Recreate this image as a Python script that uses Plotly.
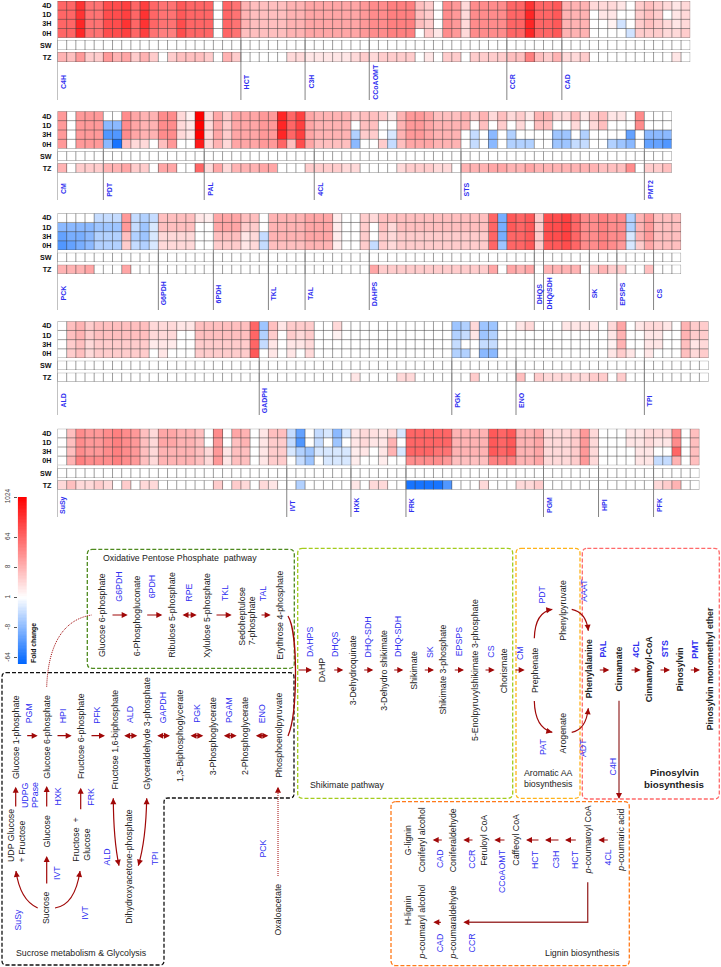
import math
import numpy as np
import plotly.graph_objects as go

# ---------- heat map values: log2 fold change per contig (negative = down) ----------
p1_4d = [6,6,8,5.5,5.5,7,7,7.5,6,7.5, 6,5.5,5.5,6.5,6,6,6,0,6,5.5, 3,2.5,2.5,2.5,2.5,3,3,3.5,3.5,3.5, 3.5,3.5,3.5,4,4.5,4.5,5,5,5,2.5, 2,0,4.5,4,1.5,4.5,4.5,4.5,4.5,6, 6,8,6,6,6.5,3,3,3,1.5,1.5, 1.5,1,0,2,2.5,2,1.5,1,1.5]
p1_1d = [6,6,8,5.5,5.5,7,7,7.5,6,8, 6,5.5,5.5,6.5,6,6,6,0,6,5.5, 3,2.5,2.5,2.5,2.5,3,3,3.5,3.5,3.5, 3.5,3.5,3.5,4,4.5,4.5,5,5,5,2.5, 2,0,4.5,4,1.5,4.5,4.5,4.5,4.5,6, 6,8.5,6,6,6.5,3,3,3,0,1, 1,0,0,2,2.5,2,0,1,1.5]
p1_3h = [6,6,8.5,5.5,5.5,7,7,8,6,8, 6,5.5,5.5,7,6,6,6,0,6,5.5, 3,2.5,2.5,2.5,2.5,3,3,3.5,3.5,3.5, 3.5,3.5,3.5,4,4.5,4.5,5,5,5,2.5, 2,0,4.5,4,1.5,4.5,4.5,4.5,4.5,6, 6,8.5,6,6,6.5,3,3,3,0,0, .5,-1.2,0,2,2.5,2,1.5,1,1.5]
p1_0h = [6,6,8.5,5.5,5.5,7,7,7.5,6,7.5, 5.5,5,5,7,6,6,6,0,6,5.5, 2.5,2.5,2.5,2.5,2.5,3,3,3.5,3.5,3.5, 3.5,3.5,3.5,4,4.5,4.5,5,5,5,0, 2,1,4.5,4,1.5,4.5,4.5,4.5,4.5,6, 6,8.5,6,6,6.5,3,3,3,0,0, 0,0,-1.2,2,2,2,1.5,1.5,2]
p1_tz = [3,2.5,4,2,2,4,3,3.5,2,3, 2,0,2,2.5,2.5,2.5,2,0,3,2, 0,0,0,0,0,1.5,1.5,1,1,1, 1,1,1.5,2,1.5,2,2,2,2,0, 1,0,2,2,0,2,2,2,2,2.5, 2.5,5,2.5,2,3,1.5,1.5,2,0,0, 0,0,0,0,0,0,0,1,0]

p2_4d = [4,0,4,4,4,0,0,4.5,3.5,3, 3,4.5,4.5,1.5,.5,10,1.5,3.5,2,3.5, 3.5,3.5,4,4,8.5,6,7.5,3.5,3,3, 3,3,2,2.5,2.5,2,1,3,4,4, 3.5,2.5,2.5,2.5,3,2,3,1.5,2.5,1.5, 2,1,3,3,1.5,1.5,2.5,1,2,2.5, 1,1,0,4.5,0,0,0]
p2_1d = [4,0,4,4,4,-3,-3,4.5,3.5,3, 3,4.5,4.5,1.5,1,10,1.5,3.5,2,3.5, 3.5,3.5,4,4,8.5,6,7.5,3.5,3,3, 3,3,0,2.5,2.5,0,0,3,4,4, 3.5,3,3,3,3,0,2.5,0,2,0, 1.5,0,2.5,2.5,0,0,1.5,0,1.5,2.5, 0,0,0,4.5,0,0,0]
p2_3h = [4,0,4,4,4,-4.5,-4.5,4.5,3.5,3, 3,4.5,4.5,1.5,1,10,1.5,3.5,2,3.5, 3.5,3.5,4,4,8.5,6,7.5,3.5,3,3, 3,3,-2,2,2,0,-1,3,4,4, 3.5,3,3,3,0,-1.5,0,-3,0,-2, 0,0,0,0,-2.5,-2.5,0,-2,0,0, 0,0,-4,0,-3,-3,-3]
p2_0h = [4,0,4,4,4,-3,-6,2.5,1.5,1.5, 0,2.5,4,0,0,9,1.5,3,1.5,3.5, 3.5,3.5,4,4,6,2.5,7,3.5,2.5,2.5, 2.5,2.5,-3,0,0,2,-1.5,2.5,3.5,3.5, 3.5,3,3,3,0,-1.5,0,-3,0,-2, -2,-2,0,0,-2.5,-2.5,-1.5,-1.5,0,0, -2,-2.5,-3,0,-4,-4,-4.5]
p2_tz = [3,0,2,2,2,3,3,3.5,2,2, 0,3.5,3.5,0,0,6,1.5,3.5,1.5,3, 3,3,3.5,3.5,0,0,0,2,2,2, 2,1.5,1.5,0,0,0,0,1.5,2,2, 2,1.5,1.5,0,3,3,3,3.5,3.5,3, 3,3.5,3,3,3,3,3,3,3,2.5, 2.5,2.5,4.5,0,2,2,2.5]

p3_4d = [0,0,0,0,-1.5,-1.5,-1.5,4,-1.5,-2, -1.5,2.5,2.5,2.5,2.5,1,.7,3.5,3.5,3.5, 2.5,2.5,0,3,3,3,3,3.5,3.5,3.5, .7,0,0,2,1.5,2.5,2.5,2.5,2.5,2.5, 2.5,2.5,2.5,2.5,2.5,2.5,2.5,6,-3.5,6.5, 6,6.5,2,7,7,7.5,6,4.5,4.5,5, 4.5,4.5,-2,3,4,2.5,2.5,2.5]
p3_1d = [-3,-3,-3,-3,-2.5,-2.5,-2.5,4,-1.5,-2.5, -1,2.5,2.5,2.5,2.5,0,0,3.5,3.5,3.5, 2,2,0,3,3,3,3,3.5,3.5,3.5, .7,0,0,2,0,2.5,1.5,2.5,2.5,2.5, 2.5,2.5,2.5,2.5,2.5,2.5,2.5,6,-3.5,6.5, 6,6.5,2,7,7,7.5,6,4.5,4.5,5, 4.5,4.5,-2,3,4,2.5,2.5,2.5]
p3_3h = [-4,-3.5,-3.5,-3,-2,-2,-2,2.5,-2,-2.5, -1,1.5,1.5,1.5,1.5,0,0,2.5,2.5,2.5, 1,1.5,-1.5,3,3,3,3,3.5,3.5,3.5, .7,0,0,2,0,2,1.5,2,2,2, 2,2,2,2,2,2,2,6,-3.5,6, 6,6.5,2,7,7,7.5,6,4.5,4.5,5, 4.5,4.5,-1,3,4,2.5,2.5,2.5]
p3_0h = [-4.5,-4,-3.5,-3,-2,-2,-2,2,-1.5,-2, -1,1.5,1.5,1.5,1.5,0,0,2,2,2, 1,1.5,-1.5,2.5,2.5,2.5,2.5,3,3,3, .7,0,0,2,-1.5,2,1.5,2,2,2, 2,2,2,2,2,2,2,6,-2.5,6, 6,6.5,2,6.5,6.5,7,6,4.5,4.5,5, 4.5,4,-1,2,3.5,2.5,2.5,2.5]
p3_tz = [3,3,3,3.5,0,0,0,3.5,0,0, 0,0,0,0,0,0,0,0,0,0, 0,0,0,0,0,0,0,0,0,0, 0,0,0,0,3.5,2,2,2,2,2, 2,2,2,2,2,2,2,3.5,0,3.5, 3,3.5,0,3,3,3,3,0,2,3, 2,2,0,0,2.5,0,0,0]

p4_4d = [0,2.5,3,2,2.5,2.5,2.5,2.5,2.5,2.5, 1.5,1.5,1.5,1,1,2.5,2.5,2.5,2.5,2.5, 2.5,6,-2.5,2.5,1,2,2,2,0,0, 1.5,0,0,0,0,0,0,0,0,0, 0,0,0,-2.5,-2,1.5,-2.5,-2.5,0,0, 1,1.5,0,0,0,1,1,1,1,0, 1.5,3.5,0,1,1.5,1.5,1,0,3,2,2]
p4_1d = [0,2.5,3,2,2.5,2.5,2.5,2.5,2.5,2.5, 1.5,1.5,1.5,0,0,2.5,2.5,2.5,2.5,2.5, 2.5,6,-2,2,0,2,1.5,2,0,0, .5,0,0,0,0,0,0,0,0,0, 0,0,0,-2,-1.5,1,-2.5,-2,0,0, 0,0,0,0,0,0,0,0,0,0, 1,3,0,0,1,1,0,0,3,2,2]
p4_3h = [0,2,2.5,1.5,2,2,2,2,2,2, .8,1,.8,0,0,2,2,2,2,2, 2,6,-1.5,1,0,1,1,1.5,0,0, 0,0,0,0,0,0,0,0,0,0, 0,0,0,-1.5,0,0,-1.5,-1.5,0,0, 0,0,0,0,0,0,0,0,0,0, .5,3,0,0,1,1,0,0,2.5,1,1.5]
p4_0h = [0,2,2.5,1.5,2,2,2,2,2,2, 0,1,0,0,0,2,2,2,2,2, 2,6.5,0,1,0,1,0,1.5,0,0, 0,0,0,0,0,0,0,0,0,0, 0,0,0,-2,-2,0,-3,-3,0,0, 0,0,0,0,0,0,0,0,0,0, 1,2,1,0,1,0,0,0,2.5,1.5,2]
p4_tz = [0,0,0,0,0,0,0,0,0,0, 0,0,0,0,0,0,0,0,0,0, 0,0,0,0,0,0,0,0,0,0, 0,0,1,0,0,0,0,1.5,1.5,0, 0,0,0,0,0,2,0,0,0,0, 2.5,0,2,1.5,1.5,1.5,1.5,1.5,2,2, 0,2,0,0,0,0,0,0,0,0,0]

p5_4d = [0,2.5,4.5,4,4,4.5,5,4.5,4,2.5, 1.5,3.5,3.5,3,3,2.5,0,4.5,0,3.5, 3,0,1,2.5,2.5,-1.5,-4,0,-1.5,-1, -3,-1,1,1.5,1.2,1,1.5,-1,6,6, 6,6,6,3,3,3,3,6.5,6,6.5, 3,3,3.5,1.5,1.5,1.5,2,4,1.5,0, 0,0,1,1,1.5,1.5,1.5,4.5,0,2.5]
p5_1d = [0,2.5,4.5,4,4,4.5,5,4.5,4,2.5, 1.5,3.5,3.5,3,3,2.5,0,4,0,2.5, 3,0,1,2,2,-1.5,-4.5,0,-1.5,0, -2.5,0,1,1.5,1,1,3,0,6,6, 6,6,6,3,3,3,3,6.5,6,6.5, 3,3,3.5,1.5,1.5,1.5,2,4,1.5,0, 0,0,1,1,1.5,1,1,4.5,0,2.5]
p5_3h = [0,2.5,4.5,4,4,4.5,5,4.5,4,2.5, 1.5,3,3,3,3,2.5,1.5,4,1,2.5, 2.5,0,1,2,2,-1,-2,-2.5,-1,-1, -1,-1,.7,1,0,1,3,-1,6,6, 6,5.5,5.5,3,3,3,3,6.5,6,6.5, 3,3,3.5,1.5,1.5,1.5,2,4,1.5,0, 0,0,0,1,1,0,0,6,0,2.5]
p5_0h = [0,3,5,4.5,4.5,4.5,5,4.5,4,2.5, 1.5,3,3,3,3,2.5,1.5,4,1,2.5, 2.5,0,1,2,2,0,-1.5,-2.5,0,-1, -1,-1,.7,0,0,.7,0,0,4.5,4.5, 4.5,4.5,4,2.5,2.5,2.5,2.5,5,5,5, 3,3,3.5,1.5,1.5,1.5,2,4,1.5,0, 0,0,0,1,1,-1.5,-1.5,3,0,2.5]
p5_tz = [1.5,2.5,1.5,1.5,2,1.5,0,2,0,1.5, 1.5,0,0,0,0,0,0,2,0,2, 1.5,0,1.5,1,0,0,-2,0,0,0, 0,0,1,0,1.5,1.5,0,0,-6,-6, -6,-6,-4.5,0,0,0,1.5,0,0,0, 1.5,1.5,2,0,0,0,0,0,0,0, 0,0,0,0,0,1.5,2,3,0,0]

time_rows = ["0H", "3H", "1D", "4D"]
colorbar_ticks = [-6, -3, 0, 3, 6, 10]
colorbar_labels = ["-64", "-8", "1", "8", "64", "1024"]

p1_genes = ["C4H", "HCT", "C3H", "CCoAOMT", "CCR", "CAD"]
p1_starts = [0, 20, 27, 34, 49, 55]
p2_genes = ["CM", "PDT", "PAL", "4CL", "STS", "PMT2"]
p2_starts = [0, 5, 16, 28, 44, 64]
p3_genes = ["PCK", "G6PDH", "6PDH", "TKL", "TAL", "DAHPS", "DHQS", "DHQ/SDH", "SK", "EPSPS", "CS"]
p3_starts = [0, 11, 17, 23, 27, 34, 52, 53, 58, 61, 65]
p4_genes = ["ALD", "GADPH", "PGK", "ENO", "TPI"]
p4_starts = [0, 22, 43, 50, 64]
p5_genes = ["SuSy", "IVT", "HXK", "FRK", "PGM", "HPI", "PFK"]
p5_starts = [0, 25, 32, 38, 53, 59, 65]

# ---------- layout of the panels (pixels) ----------
W, H = 721, 967
CELL = 9.17
LEFT = 57.5
panels = [
    dict(rows=[p1_0h, p1_3h, p1_1d, p1_4d], tz=p1_tz, genes=p1_genes, starts=p1_starts,
         main=(1, 37.7), sw=(40, 50), tzb=(52, 62), line_end=100, label_y=82),
    dict(rows=[p2_0h, p2_3h, p2_1d, p2_4d], tz=p2_tz, genes=p2_genes, starts=p2_starts,
         main=(111.3, 148.7), sw=(151.3, 160.7), tzb=(163.3, 172.7), line_end=200, label_y=189),
    dict(rows=[p3_0h, p3_3h, p3_1d, p3_4d], tz=p3_tz, genes=p3_genes, starts=p3_starts,
         main=(213.3, 250), sw=(252.7, 262), tzb=(264.7, 274), line_end=310, label_y=293.5),
    dict(rows=[p4_0h, p4_3h, p4_1d, p4_4d], tz=p4_tz, genes=p4_genes, starts=p4_starts,
         main=(321.3, 358), sw=(360.7, 370), tzb=(372.7, 381.7), line_end=415, label_y=400.5),
    dict(rows=[p5_0h, p5_3h, p5_1d, p5_4d], tz=p5_tz, genes=p5_genes, starts=p5_starts,
         main=(428.7, 465.3), sw=(468.3, 478), tzb=(480.3, 489.7), line_end=517, label_y=505),
]

FONT = "Liberation Sans"
TXT = "#222222"
BLUE = "#2f2ff0"
RED = "#a00808"
ZMIN, ZMAX = -6.6, 10
SCALE = [[0, "#0066ff"], [-ZMIN / (ZMAX - ZMIN), "#ffffff"], [1, "#ff0000"]]
GRID = "rgba(60,60,60,0.5)"

fig = go.Figure()
layout = dict(width=W, height=H, margin=dict(l=0, r=0, t=0, b=0), paper_bgcolor="white",
              plot_bgcolor="rgba(0,0,0,0)", showlegend=False, autosize=False)
shapes, notes = [], []
OV = 17  # overlay axes numbered in figure pixels
OX, OY = f"x{OV}", f"y{OV}"


def axis_pair(k, x0, x1, y0, y1):
    return (dict(domain=[x0 / W, x1 / W], anchor=f"y{k}", showgrid=False, zeroline=False, automargin=False,
                 showticklabels=False, ticks="", fixedrange=True),
            dict(domain=[1 - y1 / H, 1 - y0 / H], anchor=f"x{k}", showgrid=False, zeroline=False, automargin=False,
                 showticklabels=False, ticks="", fixedrange=True))


def block(k, z, labels, xspan, yspan):
    n, m = len(z[0]), len(z)
    xa, ya = axis_pair(k, xspan[0], xspan[1], yspan[0], yspan[1])
    xa["range"] = [-0.5, n - 0.5]
    ya["range"] = [-0.5, m - 0.5]
    ya.update(showticklabels=True, tickmode="array", tickvals=list(range(m)), ticktext=labels,
              ticklabelstandoff=5,
              tickfont=dict(family=FONT, size=7.2, color="#111", weight=700))
    layout[f"xaxis{k}"], layout[f"yaxis{k}"] = xa, ya
    fig.add_trace(go.Heatmap(z=z, x=list(range(n)), y=list(range(m)), zmin=ZMIN, zmax=ZMAX,
                             colorscale=SCALE, showscale=False, hoverinfo="skip",
                             xaxis=f"x{k}", yaxis=f"y{k}"))
    gx, gy = [], []
    for i in range(n + 1):
        gx += [i - 0.5, i - 0.5, None]
        gy += [-0.5, m - 0.5, None]
    for j in range(m + 1):
        gx += [-0.5, n - 0.5, None]
        gy += [j - 0.5, j - 0.5, None]
    fig.add_trace(go.Scatter(x=gx, y=gy, mode="lines", line=dict(color=GRID, width=1),
                             hoverinfo="skip", cliponaxis=False, xaxis=f"x{k}", yaxis=f"y{k}"))


k = 1
for p in panels:
    n = len(p["rows"][0])
    assert all(len(r) == n for r in p["rows"]) and len(p["tz"]) == n, (n, [len(r) for r in p["rows"]], len(p["tz"]))
    xs = (LEFT, LEFT + n * CELL)
    block(k, p["rows"], time_rows, xs, p["main"])
    main_k = k
    block(k + 1, [[0] * n], ["SW"], xs, p["sw"])
    block(k + 2, [p["tz"]], ["TZ"], xs, p["tzb"])
    for g, s in zip(p["genes"], p["starts"]):
        shapes.append(dict(type="line", xref=f"x{main_k}", yref=OY, x0=s - 0.5, x1=s - 0.5,
                           y0=p["main"][1], y1=p["line_end"],
                           line=dict(color="rgba(125,125,125,0.95)", width=1), layer="above"))
        notes.append(dict(text=g, xref=f"x{main_k}", yref=OY, x=s - 0.5, y=p["label_y"], xshift=5.5,
                          textangle=-90, showarrow=False, xanchor="center", yanchor="middle",
                          font=dict(family=FONT, size=7, color=BLUE, weight=700)))
    k += 3

# colour ramp drawn through its own axis
ramp_levels = np.linspace(ZMIN, ZMAX, 120)
layout["xaxis16"], layout["yaxis16"] = axis_pair(16, 17.7, 27, 497, 664)
layout["yaxis16"].update(range=[ZMIN, ZMAX], showticklabels=True, tickmode="array", tickvals=colorbar_ticks,
                         ticktext=colorbar_labels, ticks="outside", ticklen=3, tickwidth=0.7,
                         tickcolor="#555", tickangle=-90, ticklabelstandoff=1,
                         tickfont=dict(family=FONT, size=6.5, color="#444"))
layout["xaxis16"]["range"] = [-0.5, 0.5]
fig.add_trace(go.Heatmap(z=[[float(v)] for v in ramp_levels], x=[0], y=ramp_levels.tolist(), zmin=ZMIN, zmax=ZMAX,
                         colorscale=SCALE, showscale=False, hoverinfo="skip", xaxis="x16", yaxis="y16"))

# overlay in figure pixels for the pathway diagram
layout[f"xaxis{OV}"] = dict(domain=[0, 1], range=[0, W], anchor=OY, visible=False, fixedrange=True, automargin=False)
layout[f"yaxis{OV}"] = dict(domain=[0, 1], range=[H, 0], anchor=OX, visible=False, fixedrange=True, automargin=False)
fig.add_trace(go.Scatter(x=[0], y=[0], mode="markers", marker=dict(opacity=0), hoverinfo="skip", xaxis=OX, yaxis=OY))


def rtxt(text, x, y, color=TXT, size=8.8, bold=False):
    notes.append(dict(text=text, xref=OX, yref=OY, x=x, y=y, textangle=-90, showarrow=False,
                      xanchor="center", yanchor="middle",
                      font=dict(family=FONT, size=size, color=color, weight=700 if bold else 400)))


def htxt(text, x, y, size=8.8, bold=False, color=TXT):
    notes.append(dict(text=text, xref=OX, yref=OY, x=x, y=y, showarrow=False, xanchor="center", yanchor="middle",
                      font=dict(family=FONT, size=size, color=color, weight=700 if bold else 400)))


def arrow(x0, y0, x1, y1, both=False, width=1.2):
    a = dict(text="", xref=OX, yref=OY, axref=OX, ayref=OY, x=x1, y=y1, ax=x0, ay=y0, showarrow=True,
             arrowhead=2, arrowsize=1, arrowwidth=width, arrowcolor=RED, standoff=0)
    if both:
        a.update(arrowside="end+start", startarrowhead=2, startarrowsize=1, startstandoff=0)
    notes.append(a)


def head(cx, cy, x1, y1):
    d = math.hypot(x1 - cx, y1 - cy)
    arrow(x1 + (cx - x1) / d * 7, y1 + (cy - y1) / d * 7, x1, y1)


def curve(x0, y0, cx, cy, x1, y1, start=False, width=1.2):
    shapes.append(dict(type="path", xref=OX, yref=OY, path=f"M{x0},{y0} Q{cx},{cy} {x1},{y1}",
                       line=dict(color=RED, width=width), layer="above"))
    head(cx, cy, x1, y1)
    if start:
        head(cx, cy, x0, y0)


def rbox(x0, y0, x1, y1, color, r=5):
    d = (f"M{x0+r},{y0} L{x1-r},{y0} Q{x1},{y0} {x1},{y0+r} L{x1},{y1-r} Q{x1},{y1} {x1-r},{y1} "
         f"L{x0+r},{y1} Q{x0},{y1} {x0},{y1-r} L{x0},{y0+r} Q{x0},{y0} {x0+r},{y0} Z")
    shapes.append(dict(type="path", xref=OX, yref=OY, path=d, layer="above",
                       line=dict(color=color, width=1.3, dash="4px,2px")))


# boxes
rbox(87.3, 549.3, 294.3, 668.3, "#4e8a1e")
rbox(297.7, 548.3, 512.7, 798.3, "#a4cc1c")
rbox(516, 548.3, 580, 798.3, "#ffb31a")
rbox(582.3, 548.3, 719.3, 799, "#ff6a6a")
rbox(391, 801.7, 629.3, 965.7, "#ff7a1a")
shapes.append(dict(type="path", xref=OX, yref=OY, layer="above",
                   path="M6,672.7 L290,672.7 Q294,672.7 294,677 L294,794 Q294,798 290,798 L168,798 Q164,798 164,802 "
                        "L164,961 Q164,965 160,965 L6,965 Q2,965 2,961 L2,677 Q2,672.7 6,672.7 Z",
                   line=dict(color="#111111", width=1.3, dash="4px,2px")))

# oxidative pentose phosphate
htxt("Oxidative Pentose Phosphate  pathway", 179.5, 558, size=8.8)
for t, x, y in [("Glucose 6-phosphate", 102, 615), ("6-Phosphogluconate", 137.3, 616), ("Ribulose 5-phosphate", 171.7, 615),
                ("Xylulose 5-phosphate", 206.7, 615), ("Sedoheptulose", 241.7, 616), ("7-phosphate", 252.3, 621),
                ("Erythrose 4-phosphate", 280, 615.7),
                # glycolysis
                ("Glucose 1-phosphate", 16, 737), ("Glucose 6-phosphate", 46.7, 737), ("Fructose 6-phosphate", 81, 736),
                ("Fructose 1,6-biphosphate", 114, 739.5), ("Glyceraldehyde 3-phosphate", 146.7, 733),
                ("1,3-Biphosphoglycerate", 180, 736), ("3-Phosphoglycerate", 213.3, 736), ("2-Phosphoglycerate", 245, 736),
                ("Phosphoenolpyruvate", 278.3, 735.5), ("UDP Glucose", 11, 836), ("+ Fructose", 21.7, 841.7),
                ("Glucose", 46.7, 831.7), ("Fructose  +", 75.7, 840), ("Glucose", 86.7, 845), ("Sucrose", 46.7, 908.3),
                ("Dihydroxyacetone-phosphate", 129, 866.7), ("Oxaloacetate", 278.3, 909.3),
                # shikimate
                ("DAHP", 322.3, 670), ("3-Dehydroquinate", 353.3, 670), ("3-Dehydro shikimate", 383.7, 670),
                ("Shikimate", 413.7, 670), ("Shikimate 3-phosphate", 443.3, 669.3),
                ("5-Enolpyruvylshikimate 3-phosphate", 475, 670), ("Chorismate", 504.3, 671),
                # aromatic
                ("Prephenate", 535, 670), ("Phenylpyruvate", 562.7, 610), ("Arogenate", 562.7, 732.7),
                # lignin
                ("<i>p</i>-coumaric acid", 620.7, 840), ("<i>p</i>-coumaroyl CoA", 588.3, 840), ("Caffeoyl CoA", 515.7, 840),
                ("Feruloyl CoA", 483.7, 840), ("Coniferaldehyde", 453.3, 840), ("Coniferyl alcohol", 422.3, 840),
                ("G-lignin", 408.3, 840), ("<i>p</i>-coumaraldehyde", 453.3, 922.3), ("<i>p</i>-coumaryl alcohol", 422.3, 922.3),
                ("H-lignin", 408.3, 910)]:
    rtxt(t, x, y)

for t, x, y in [("G6PDH", 119, 586.7), ("6PDH", 152.3, 587), ("RPE", 189, 592.7), ("TKL", 225, 593), ("TAL", 263.3, 593),
                ("PGM", 29.3, 713), ("HPI", 63.3, 716), ("PFK", 96.7, 715), ("ALD", 130, 715), ("GAPDH", 163.3, 708),
                ("PGK", 196.7, 713), ("PGAM", 229, 710), ("ENO", 262.3, 714), ("UDPG", 25, 795), ("PPase", 35, 795),
                ("HXK", 57.7, 796.7), ("FRK", 91, 796.7), ("IVT", 57.7, 873.3), ("SuSy", 18.3, 919.3), ("IVT", 85, 912.7),
                ("ALD", 107.3, 857.3), ("TPI", 155, 858.3), ("PCK", 263.3, 848.3),
                ("DAHPS", 309.3, 641.7), ("DHQS", 335.7, 644.3), ("DHQ-SDH", 367.7, 636.7), ("DHQ-SDH", 397.3, 636.7),
                ("SK", 429.3, 651.7), ("EPSPS", 459, 642.3), ("CS", 491, 651.7), ("CM", 520, 653), ("PDT", 542.3, 594.3),
                ("PAT", 542.3, 746.7), ("AAAT", 583.7, 590), ("ADT", 583.7, 748.3), ("C4H", 612.7, 766.7),
                ("4CL", 607.7, 857.7), ("HCT", 575.7, 859.3), ("C3H", 556, 859.3), ("HCT", 535.7, 859.3),
                ("CCoAOMT", 502, 871), ("CCR", 471.7, 859), ("CAD", 440, 859), ("CCR", 471.7, 942.7), ("CAD", 440, 943.3)]:
    rtxt(t, x, y, color=BLUE)

for t, x, y in [("Phenylalanine", 589, 669.3), ("Cinnamate", 619.3, 669.3), ("Cinnamoyl-CoA", 649, 669.3),
                ("Pinosylvin", 680, 669.3), ("Pinosylvin monomethyl ether", 710, 669.3)]:
    rtxt(t, x, y, bold=True)
for t, x, y in [("PAL", 603.3, 648.3), ("4CL", 635.7, 649), ("STS", 665.3, 649), ("PMT", 694.7, 649)]:
    rtxt(t, x, y, color=BLUE, bold=True)

htxt("Sucrose metabolism &amp; Glycolysis", 81.7, 952.7)
htxt("Shikimate pathway", 347, 785)
htxt("Aromatic AA", 548.7, 773.3)
htxt("biosynthesis", 548.7, 784)
htxt("Pinosylvin", 674, 772, size=9.8, bold=True)
htxt("biosynthesis", 674, 784, size=9.8, bold=True)
htxt("Lignin biosynthesis", 582.3, 952.7)
rtxt("Fold change", 34, 643, size=6.8, bold=True, color="#111")

# straight arrows
for a, b in [(111, 127.7), (145.7, 162.3), (215, 231.7), (260, 270.7)]:
    arrow(a, 615, b, 615)
arrow(181, 615, 196.7, 615, both=True)
for a, b in [(25.7, 37.7), (56, 71.7), (90, 105)]:
    arrow(a, 735.7, b, 735.7)
for a, b in [(122.7, 137.3), (155.7, 170), (189, 203.3), (222.3, 236.7), (254.3, 268.3)]:
    arrow(a, 735.7, b, 735.7, both=True)
for x, a, b in [(15.7, 808, 786.7), (46.7, 808, 786), (80.7, 810.7, 787.7), (46.7, 885, 856)]:
    arrow(x, a, x, b)
for a, b in [(297, 312), (332.7, 343.3), (362.7, 373.3), (392.7, 403.3), (423.3, 434), (453.3, 464), (484, 494.7),
             (514, 524.7), (598.3, 609.3), (630, 640.7), (659, 670), (689.3, 700)]:
    arrow(a, 670, b, 670)
for a, b in [(609.3, 598.3), (577.3, 565), (560, 545), (540, 526), (506, 494.3), (474, 463.3), (443.3, 432.7)]:
    arrow(a, 840, b, 840)
arrow(442.3, 922.3, 433.3, 922.3)

# curved connections
curve(37.7, 908, 20, 900, 16, 871)
curve(55, 908, 75, 905, 80, 871)
curve(113.3, 798.3, 113.5, 840, 119, 865.7, start=True)
curve(146.7, 798.3, 146, 840, 138.3, 865.7, start=True)
curve(534.3, 638.3, 535, 612, 552.3, 609.3)
curve(534.3, 701, 535, 728, 552.3, 732.3)
curve(571.7, 609.3, 586, 612, 588.3, 630.7)
curve(571.7, 732.3, 586, 730, 588.3, 708.3)
shapes.append(dict(type="path", xref=OX, yref=OY, layer="above", path="M288,616 C298,632 298,712 288,736",
                   line=dict(color=RED, width=1.3)))
shapes.append(dict(type="path", xref=OX, yref=OY, layer="above", path="M46.7,686.7 C48,650 60,620 91.7,615",
                   line=dict(color=RED, width=1, dash="1px,1px")))
shapes.append(dict(type="line", xref=OX, yref=OY, layer="above", x0=278, y0=876, x1=278, y1=790,
                   line=dict(color=RED, width=1, dash="1px,1px")))
arrow(278, 793, 278, 786.7)
shapes.append(dict(type="line", xref=OX, yref=OY, layer="above", x0=619, y0=700.7, x1=619, y1=795,
                   line=dict(color="#a85050", width=1.5)))
arrow(619, 792, 619, 799)
shapes.append(dict(type="path", xref=OX, yref=OY, layer="above", path="M587.7,882.3 L587.7,922.3 L468,922.3",
                   line=dict(color="#a03838", width=1.4)))
arrow(470, 922.3, 463.3, 922.3)

layout["shapes"] = shapes
layout["annotations"] = notes
fig.update_layout(**layout)
fig.write_html("out.html", config=dict(displayModeBar=False),
               post_script="document.body.style.margin='0';")
